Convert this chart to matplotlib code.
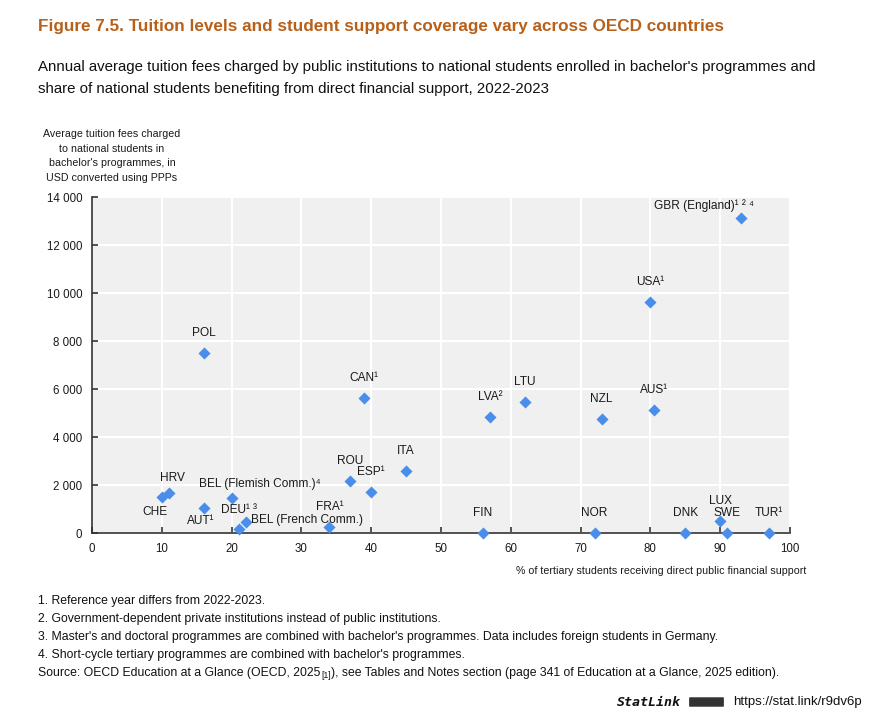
import matplotlib
matplotlib.use("Agg")
import matplotlib.pyplot as plt
from matplotlib.patches import FancyBboxPatch
from matplotlib.transforms import offset_copy

# Données
countries = ["CHE", "HRV", "AUT¹", "BEL (Flemish Comm.)⁴", "DEU¹ ³", "BEL (French Comm.)",
             "FRA¹", "ROU", "ESP¹", "ITA", "CAN¹", "POL", "LVA²", "LTU", "NZL", "AUS¹",
             "USA¹", "GBR (England)¹ ² ⁴", "FIN", "NOR", "DNK", "LUX", "SWE", "TUR¹"]
support_pct = [10, 11, 16, 20, 21, 22, 34, 37, 40, 45, 39, 16, 57, 62, 73, 80.5,
               80, 93, 56, 72, 85, 90, 91, 97]
tuition_usd = [1500, 1670, 1040, 1460, 170, 460, 250, 2170, 1710, 2580, 5620, 7500,
               4830, 5460, 4750, 5120, 9620, 13125, 0, 0, 0, 500, 0, 0]

x_ticks = list(range(0, 101, 10))
y_ticks = list(range(0, 14001, 2000))
y_tick_labels = ["0" if v == 0 else "{:,}".format(v).replace(",", " ") for v in y_ticks]

notes = [
    "1. Reference year differs from 2022-2023.",
    "2. Government-dependent private institutions instead of public institutions.",
    "3. Master's and doctoral programmes are combined with bachelor's programmes. Data includes foreign students in Germany.",
    "4. Short-cycle tertiary programmes are combined with bachelor's programmes.",
]
source_parts = ["Source: OECD Education at a Glance (OECD, 2025", "[1]",
                "), see Tables and Notes section (page 341 of Education at a Glance, 2025 edition)."]

# Décalage des étiquettes (pixels) : (dx, dy, alignement)
label_offsets = {
    "CHE": (-7, -15, "center"),
    "HRV": (4, 15, "center"),
    "AUT¹": (-3, -13, "center"),
    "BEL (Flemish Comm.)⁴": (28, 14, "center"),
    "DEU¹ ³": (0, 19, "center"),
    "BEL (French Comm.)": (5, 2, "left"),
    "GBR (England)¹ ² ⁴": (13, 12, "right"),
}

NARROW = ["Liberation Sans Narrow", "Liberation Sans", "DejaVu Sans"]
REG = ["Liberation Sans", "DejaVu Sans"]
BLUE = "#4A8EEA"
DARK = "#1A1A1A"

plt.rcParams["font.family"] = REG

fig = plt.figure(figsize=(8.87, 7.21), dpi=100)
ax = fig.add_axes([92 / 887, 1 - 533 / 721, (790 - 92) / 887, (533 - 197) / 721])

ax.set_facecolor("#F0F0F0")
ax.grid(True, color="white", linewidth=1.5)
ax.set_axisbelow(True)
for side in ["top", "right"]:
    ax.spines[side].set_visible(False)
for side in ["left", "bottom"]:
    ax.spines[side].set_color("#333333")
    ax.spines[side].set_linewidth(1.2)

ax.scatter(support_pct, tuition_usd, marker="D", s=38, color=BLUE, zorder=3,
           clip_on=False, linewidths=0)

for name, xv, yv in zip(countries, support_pct, tuition_usd):
    dx, dy, ha = label_offsets.get(name, (0, 20, "center"))
    ax.annotate(name, (xv, yv), xytext=(dx, dy), textcoords="offset pixels",
                ha=ha, va="center", fontsize=8.6, family=NARROW, color=DARK)

ax.set_xlim(0, 100)
ax.set_ylim(0, 14000)
ax.set_xticks(x_ticks)
ax.set_yticks(y_ticks)
ax.set_yticklabels(y_tick_labels)
ax.tick_params(direction="in", length=4, width=1.2, color="#333333",
               labelsize=8.3, labelcolor=DARK, pad=7)
for lab in ax.get_xticklabels() + ax.get_yticklabels():
    lab.set_family(NARROW)

# Titres
fig.text(38 / 887, 1 - 27 / 721, "Figure 7.5. Tuition levels and student support coverage vary across OECD countries",
         fontsize=12.3, fontweight="bold", color="#B8601A", va="center", ha="left")
fig.text(38 / 887, 1 - 67 / 721,
         "Annual average tuition fees charged by public institutions to national students enrolled in bachelor's programmes and",
         fontsize=10.8, color="#111111", va="center", ha="left")
fig.text(38 / 887, 1 - 89 / 721,
         "share of national students benefiting from direct financial support, 2022-2023",
         fontsize=10.8, color="#111111", va="center", ha="left")

# Titres des axes
fig.text(112 / 887, 1 - 156 / 721,
         "Average tuition fees charged\nto national students in\nbachelor's programmes, in\nUSD converted using PPPs",
         fontsize=7.7, family=NARROW, ha="center", va="center", linespacing=1.6, color=DARK)
fig.text(806 / 887, 1 - 571 / 721, "% of tertiary students receiving direct public financial support",
         fontsize=7.7, family=NARROW, ha="right", va="center", color=DARK)

# Notes
for i, note in enumerate(notes):
    fig.text(38 / 887, 1 - (601 + 18 * i) / 721, note, fontsize=8.85, va="center", ha="left", color="#111111")

renderer = fig.canvas.get_renderer()
t1 = fig.text(38 / 887, 1 - 673 / 721, source_parts[0], fontsize=8.85, va="center", ha="left", color="#111111")
w1 = t1.get_window_extent(renderer).width
t2 = fig.text(38 / 887, 1 - 673 / 721, source_parts[1], fontsize=6.2, va="center", ha="left", color="#111111",
              transform=offset_copy(fig.transFigure, fig=fig, x=w1 + 0.5, y=-3, units="dots"))
w2 = t2.get_window_extent(renderer).width
fig.text(38 / 887, 1 - 673 / 721, source_parts[2], fontsize=8.85, va="center", ha="left", color="#111111",
         transform=offset_copy(fig.transFigure, fig=fig, x=w1 + w2 + 1, y=0, units="dots"))

# StatLink
fig.text(681 / 887, 1 - 702 / 721, "StatLink", fontsize=9.5, family="DejaVu Sans Mono",
         style="italic", fontweight="bold", ha="right", va="center", color="#111111")
logo = FancyBboxPatch((690 / 887, 1 - 706 / 721), 33 / 887, 8 / 721,
                      boxstyle="round,pad=0.001", transform=fig.transFigure,
                      facecolor="#333333", edgecolor="none")
fig.patches.append(logo)
fig.text(733 / 887, 1 - 702 / 721, "https://stat.link/r9dv6p", fontsize=9.5, family=NARROW,
         ha="left", va="center", color="#111111")

fig.savefig("out.png", dpi=100)
